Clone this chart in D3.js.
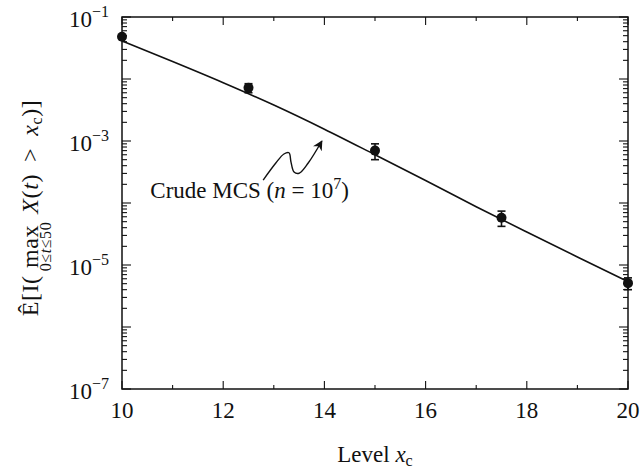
<!DOCTYPE html>
<html>
<head>
<meta charset="utf-8">
<script src="https://cdn.jsdelivr.net/npm/d3@7"></script>
<style>
  body { margin: 0; background: #fff; }
  text { font-family: "Liberation Serif", "DejaVu Serif", serif; fill: #111; }
</style>
</head>
<body>
<svg id="chart" width="642" height="471"></svg>
<script>
// Crude Monte Carlo estimates of the exceedance probability at each level
const levels = [10, 12.5, 15, 17.5, 20];
const estimates = [4.8e-2, 7.2e-3, 7.0e-4, 5.8e-5, 5.1e-6];
const stdErrors = [3.0e-3, 1.2e-3, 2.0e-4, 1.6e-5, 1.1e-6];

// Reference curve of the probability against the level
const curveLevels = [10, 11, 12, 13, 14, 15, 16, 17, 18, 19, 20];
const curveValues = [4.1e-2, 1.91e-2, 8.7e-3, 3.8e-3, 1.55e-3, 6.0e-4, 2.3e-4, 8.7e-5, 3.4e-5, 1.35e-5, 5.4e-6];

// Axis ticks
const xMajorTicks = [10, 12, 14, 16, 18, 20];
const xMinorTicks = [11, 13, 15, 17, 19];
const yLabelExponents = [-1, -3, -5, -7];

const svg = d3.select("#chart");
const plotLeft = 122, plotRight = 628, plotTop = 17, plotBottom = 389;
const fontSize = 23, smallSize = 16;

const x = d3.scaleLinear().domain([10, 20]).range([plotLeft, plotRight]);
const y = d3.scaleLog().domain([1e-7, 1e-1]).range([plotBottom, plotTop]);

const ink = "#111";

// Frame
svg.append("rect")
  .attr("x", plotLeft).attr("y", plotTop)
  .attr("width", plotRight - plotLeft).attr("height", plotBottom - plotTop)
  .attr("fill", "none").attr("stroke", ink).attr("stroke-width", 1.5);

// Log ticks: every decade plus 2..9 inside each decade
const decades = d3.range(-7, 0);
const yMajor = decades.map(e => Math.pow(10, e));
const yMinor = [];
decades.slice(0, -1).forEach(e => {
  for (let k = 2; k <= 9; k++) yMinor.push(k * Math.pow(10, e));
});

const ticks = svg.append("g").attr("stroke", ink).attr("stroke-width", 1.1);
function yTick(v, len) {
  ticks.append("line").attr("x1", plotLeft).attr("x2", plotLeft + len).attr("y1", y(v)).attr("y2", y(v));
  ticks.append("line").attr("x1", plotRight).attr("x2", plotRight - len).attr("y1", y(v)).attr("y2", y(v));
}
function xTick(v, len) {
  ticks.append("line").attr("x1", x(v)).attr("x2", x(v)).attr("y1", plotBottom).attr("y2", plotBottom - len);
  ticks.append("line").attr("x1", x(v)).attr("x2", x(v)).attr("y1", plotTop).attr("y2", plotTop + len);
}
yMajor.forEach(v => yTick(v, 9));
yMinor.forEach(v => yTick(v, 5));
xMajorTicks.forEach(v => xTick(v, 8));
xMinorTicks.forEach(v => xTick(v, 4));

// x tick labels
svg.append("g").selectAll("text").data(xMajorTicks).join("text")
  .attr("x", d => x(d)).attr("y", plotBottom + 29)
  .attr("text-anchor", "middle").attr("font-size", fontSize)
  .text(d => d);

// y tick labels: 10 with a superscript exponent
const yl = svg.append("g").selectAll("text").data(yLabelExponents).join("text")
  .attr("x", plotLeft - 13).attr("y", d => y(Math.pow(10, d)) + 10)
  .attr("text-anchor", "end").attr("font-size", fontSize);
yl.append("tspan").text("10");
yl.append("tspan").attr("dy", -10).attr("font-size", smallSize).text(d => "\u2212" + Math.abs(d));

// Curve
const line = d3.line().x(d => x(d[0])).y(d => y(d[1])).curve(d3.curveMonotoneX);
svg.append("path")
  .datum(d3.zip(curveLevels, curveValues))
  .attr("d", line)
  .attr("fill", "none").attr("stroke", ink).attr("stroke-width", 1.6);

// Error bars and markers
const pts = d3.zip(levels, estimates, stdErrors);
const eb = svg.append("g").attr("stroke", ink).attr("stroke-width", 1.6);
pts.forEach(([lv, est, se]) => {
  const y0 = y(est - se), y1 = y(est + se), cx = x(lv);
  eb.append("line").attr("x1", cx).attr("x2", cx).attr("y1", y0).attr("y2", y1);
  eb.append("line").attr("x1", cx - 4).attr("x2", cx + 4).attr("y1", y0).attr("y2", y0);
  eb.append("line").attr("x1", cx - 4).attr("x2", cx + 4).attr("y1", y1).attr("y2", y1);
});
svg.append("g").selectAll("circle").data(pts).join("circle")
  .attr("cx", d => x(d[0])).attr("cy", d => y(d[1]))
  .attr("r", 5).attr("fill", ink);

// Annotation: squiggly arrow pointing at the curve
const arrowPts = [
  [12.79, Math.pow(10, -3.63)],
  [13.04, Math.pow(10, -3.355)],
  [13.20, Math.pow(10, -3.21)],
  [13.30, Math.pow(10, -3.19)],
  [13.34, Math.pow(10, -3.34)],
  [13.40, Math.pow(10, -3.50)],
  [13.50, Math.pow(10, -3.52)],
  [13.68, Math.pow(10, -3.355)],
  [13.95, Math.pow(10, -3.0)]
];
svg.append("defs").append("marker")
  .attr("id", "head").attr("viewBox", "0 0 10 10")
  .attr("refX", 9).attr("refY", 5)
  .attr("markerWidth", 10).attr("markerHeight", 10)
  .attr("markerUnits", "userSpaceOnUse")
  .attr("orient", "auto")
  .append("path").attr("d", "M0,0 L10,5 L0,10 L3,5 Z").attr("fill", ink);
svg.append("path")
  .datum(arrowPts)
  .attr("d", d3.line().x(d => x(d[0])).y(d => y(d[1])).curve(d3.curveCatmullRom.alpha(0.5)))
  .attr("fill", "none").attr("stroke", ink).attr("stroke-width", 1.4)
  .attr("marker-end", "url(#head)");

const ann = svg.append("text")
  .attr("x", x(10.56)).attr("y", y(Math.pow(10, -3.92)))
  .attr("font-size", fontSize);
ann.append("tspan").text("Crude MCS (");
ann.append("tspan").attr("font-style", "italic").text("n");
ann.append("tspan").text(" = 10");
ann.append("tspan").attr("dy", -9).attr("font-size", smallSize).text("7");
ann.append("tspan").attr("dy", 9).text(")");

// x axis title
const xt = svg.append("text")
  .attr("x", (plotLeft + plotRight) / 2).attr("y", 462)
  .attr("text-anchor", "middle").attr("font-size", fontSize);
xt.append("tspan").text("Level ");
xt.append("tspan").attr("font-style", "italic").text("x");
xt.append("tspan").attr("dy", 4).attr("font-size", smallSize).text("c");

// y axis title, built piecewise so that the max operator carries its range below it
const yFont = 24;
const yt = svg.append("g").attr("letter-spacing", 0.6);
let cursor = 0;
const t1 = yt.append("text").attr("x", cursor).attr("y", 0).attr("font-size", yFont).text("\u00CA[I(");
cursor += t1.node().getComputedTextLength() + 4;
const tMax = yt.append("text").attr("x", cursor).attr("y", 0).attr("font-size", yFont).text("max");
const wMax = tMax.node().getComputedTextLength();
const tSub = yt.append("text").attr("y", 13).attr("font-size", smallSize).attr("text-anchor", "middle");
tSub.append("tspan").text("0\u2264");
tSub.append("tspan").attr("font-style", "italic").text("t");
tSub.append("tspan").text("\u226450");
const wSub = tSub.node().getComputedTextLength();
const blockW = Math.max(wMax, wSub);
tMax.attr("x", cursor + (blockW - wMax) / 2);
tSub.attr("x", cursor + blockW / 2);
cursor += blockW + 8;
const t2 = yt.append("text").attr("x", cursor).attr("y", 0).attr("font-size", yFont);
t2.append("tspan").attr("font-style", "italic").text("X");
t2.append("tspan").text("(");
t2.append("tspan").attr("font-style", "italic").text("t");
t2.append("tspan").text(")\u2009 > \u2009");
t2.append("tspan").attr("font-style", "italic").text("x");
t2.append("tspan").attr("dy", 4).attr("font-size", smallSize).text("c");
t2.append("tspan").attr("dy", -4).text(")]");
cursor += t2.node().getComputedTextLength();
yt.attr("transform", `translate(38,${208 + cursor / 2}) rotate(-90)`);
</script>
</body>
</html>
